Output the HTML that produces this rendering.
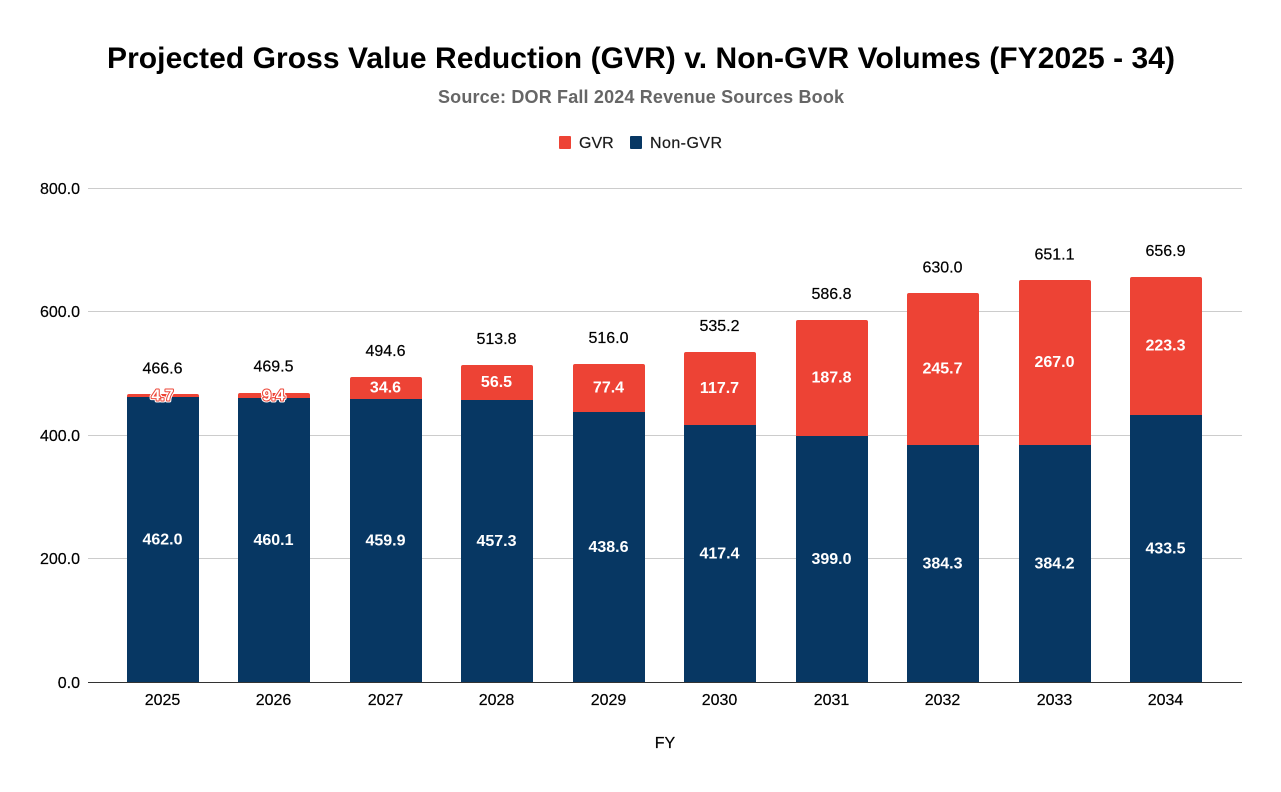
<!DOCTYPE html>
<html lang="en">
<head>
<meta charset="utf-8">
<title>Projected GVR v. Non-GVR Volumes</title>
<style>
  html, body { margin: 0; padding: 0; background: #fff; }
  svg { display: block; font-family: "Liberation Sans", Arial, sans-serif; }
</style>
</head>
<body>
<svg id="chart" width="1281" height="792" viewBox="0 0 1281 792" xmlns="http://www.w3.org/2000/svg">
  <rect width="1281" height="792" fill="#ffffff"/>
  <text x="641" y="68" text-anchor="middle" font-size="30" font-weight="700" fill="#000" textLength="1068" lengthAdjust="spacing">Projected Gross Value Reduction (GVR) v. Non-GVR Volumes (FY2025 - 34)</text>
  <text x="641" y="103" text-anchor="middle" font-size="18" font-weight="700" fill="#666666" textLength="406" lengthAdjust="spacing">Source: DOR Fall 2024 Revenue Sources Book</text>
  <g>
    <g>
      <rect x="559" y="136" width="12" height="13" rx="1" fill="#ed4335"/>
      <text x="579" y="148" font-size="16" fill="#1a1a1a" stroke="#1a1a1a" stroke-width="0.2">GVR</text>
    </g>
    <g>
      <rect x="630" y="136" width="12" height="13" rx="1" fill="#073763"/>
      <text x="650" y="148" font-size="16" fill="#1a1a1a" stroke="#1a1a1a" stroke-width="0.2" textLength="72" lengthAdjust="spacing">Non-GVR</text>
    </g>
  </g>
  <g id="grid"></g>
  <g id="bars"></g>
  <g id="axes"></g>
  <text x="665" y="748" text-anchor="middle" font-size="16" fill="#000" stroke="#000" stroke-width="0.2">FY</text>
</svg>
<script>
const categories = ['2025','2026','2027','2028','2029','2030','2031','2032','2033','2034'];
const nonGvr = [462.0,460.1,459.9,457.3,438.6,417.4,399.0,384.3,384.2,433.5];
const gvr = [4.7,9.4,34.6,56.5,77.4,117.7,187.8,245.7,267.0,223.3];
const totals = [466.6,469.5,494.6,513.8,516.0,535.2,586.8,630.0,651.1,656.9];
const yTicks = [0,200,400,600,800];

const NS = 'http://www.w3.org/2000/svg';
const plotLeft = 88, plotRight = 1242, firstCenter = 163, lastCenter = 1166;
const y0 = 682.5, y800 = 188.5, yMax = 800, barW = 72;
const RED = '#ed4335', NAVY = '#073763';

function yScale(v) { return y0 - (v / yMax) * (y0 - y800); }
function xScale(i) { return firstCenter + i * (lastCenter - firstCenter) / (categories.length - 1); }
function mk(tag, attrs, parent, txt) {
  const el = document.createElementNS(NS, tag);
  for (const k in attrs) el.setAttribute(k, attrs[k]);
  if (txt !== undefined) el.textContent = txt;
  parent.appendChild(el);
  return el;
}

const grid = document.getElementById('grid');
const bars = document.getElementById('bars');
const axes = document.getElementById('axes');

yTicks.forEach(function (t) {
  const y = Math.floor(yScale(t) - 0.5) + 0.5;
  if (t !== 0) {
    const line = mk('line', { x1: plotLeft, x2: plotRight, y1: y, y2: y, stroke: '#cccccc', 'stroke-width': 1 }, grid);
    
    
  }
  const label = mk('text', { x: 80, y: y + 5.5, 'text-anchor': 'end', 'font-size': 16, fill: '#000', stroke: '#000', 'stroke-width': 0.2 }, axes, t.toFixed(1));
  
  
});

categories.forEach(function (c, i) {
  const left = Math.round(xScale(i) - barW / 2);
  const cx = left + barW / 2 - 0.5;
  const bottom = Math.round(y0);
  const yBase = Math.round(yScale(nonGvr[i]));
  const yTop = Math.round(yScale(nonGvr[i] + gvr[i]));

  const navy = mk('rect', { x: left, y: yBase, width: barW, height: bottom - yBase, fill: NAVY }, bars);
  
  

  const r = Math.min(2, yBase - yTop);
  const d = 'M' + left + ' ' + yBase + 'V' + (yTop + r) + 'Q' + left + ' ' + yTop + ' ' + (left + r) + ' ' + yTop +
            'H' + (left + barW - r) + 'Q' + (left + barW) + ' ' + yTop + ' ' + (left + barW) + ' ' + (yTop + r) +
            'V' + yBase + 'Z';
  const red = mk('path', { d: d, fill: RED }, bars);
  
  

  const navyLabel = mk('text', { x: cx, y: (yBase + y0) / 2 + 4.5, 'text-anchor': 'middle', 'font-size': 16, 'font-weight': 700, fill: '#fff' }, bars, nonGvr[i].toFixed(1));
  
  

  const gy = (yTop + yBase) / 2 + 4.5;
  if (yBase - yTop < 16) {
    const haloOuter = mk('text', { x: cx, y: gy + 0.5, 'text-anchor': 'middle', 'font-size': 16, 'font-weight': 700, fill: '#fff', stroke: '#ffffff', 'stroke-width': 4, 'stroke-linejoin': 'round', 'aria-hidden': 'true' }, bars, gvr[i].toFixed(1));
    
    
    const haloInner = mk('text', { x: cx, y: gy + 0.5, 'text-anchor': 'middle', 'font-size': 16, 'font-weight': 700, fill: RED, stroke: RED, 'stroke-width': 2, 'stroke-linejoin': 'round', 'aria-hidden': 'true' }, bars, gvr[i].toFixed(1));
    
    
    const gl = mk('text', { x: cx, y: gy + 0.5, 'text-anchor': 'middle', 'font-size': 16, 'font-weight': 700, fill: '#fff' }, bars, gvr[i].toFixed(1));
    
    
  } else {
    const gl = mk('text', { x: cx, y: gy, 'text-anchor': 'middle', 'font-size': 16, 'font-weight': 700, fill: '#fff' }, bars, gvr[i].toFixed(1));
    
    
  }

  const tl = mk('text', { x: cx, y: yScale(totals[i]) - 21, 'text-anchor': 'middle', 'font-size': 16, fill: '#000', stroke: '#000', 'stroke-width': 0.2 }, bars, totals[i].toFixed(1));
  
  

  const xl = mk('text', { x: cx, y: 705, 'text-anchor': 'middle', 'font-size': 16, fill: '#000', stroke: '#000', 'stroke-width': 0.2 }, axes, c);
  
  
});

const baseline = mk('line', { x1: plotLeft, x2: plotRight, y1: y0, y2: y0, stroke: '#333333', 'stroke-width': 1 }, axes);


</script>
</body>
</html>
